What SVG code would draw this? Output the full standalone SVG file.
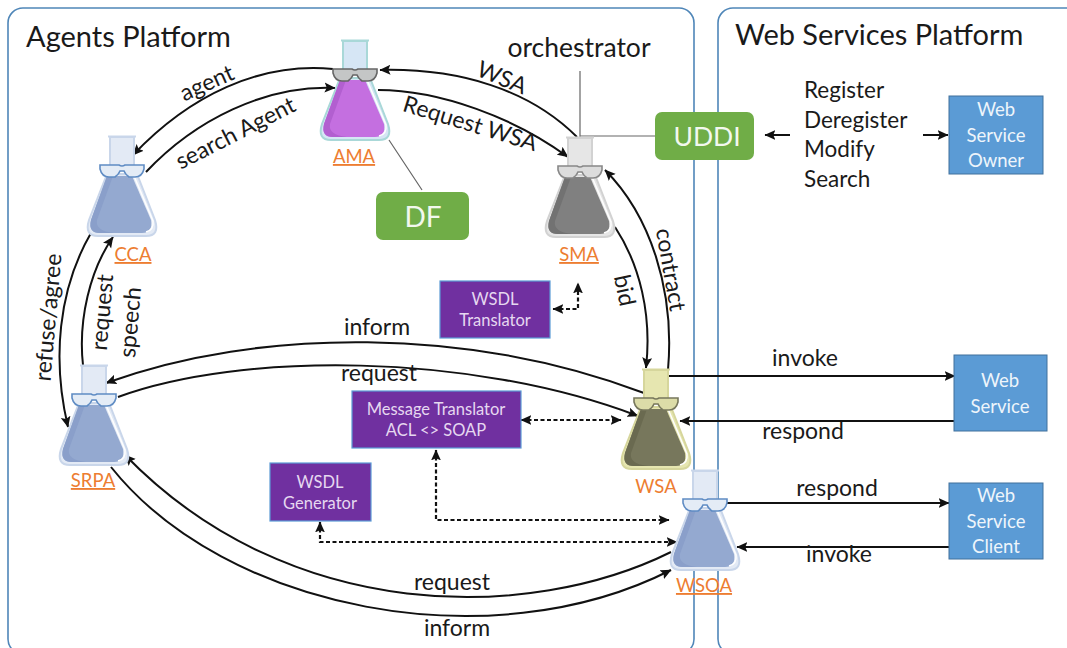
<svg xmlns="http://www.w3.org/2000/svg" width="1067" height="648" viewBox="0 0 1067 648">
<style>
text{font-family:Lato,"Open Sans","Liberation Sans",sans-serif;fill:#1a1a1a}
.panel{fill:#fff;stroke:#4f86b8;stroke-width:1.6}
.title{font-size:29px}
.t{font-size:23px;text-anchor:middle}
.side{font-size:22.5px}
.flabel{font-size:18.5px;fill:#ed7d31;text-anchor:middle;text-decoration:underline}
.green rect{fill:#70ad47}
.green text{fill:#f2f8ee;text-anchor:middle}
.purple rect{fill:#7030a0;stroke:#5b9bd5;stroke-width:1.2}
.purple text{fill:#e6d8f0;font-size:16.5px;text-anchor:middle}
.blue rect{fill:#5b9bd5;stroke:#41719c;stroke-width:1}
.blue text{fill:#eef5fb;font-size:18.5px;text-anchor:middle}
.c{fill:none;stroke:#111;stroke-width:2;marker-end:url(#a)}
.d{fill:none;stroke:#111;stroke-width:2.2;stroke-dasharray:4 2.5;marker-end:url(#a);marker-start:url(#a)}
.g{fill:none;stroke:#666;stroke-width:1.2}
</style>
<defs>
<marker id="a" viewBox="0 0 10 10" refX="9.5" refY="5" markerWidth="11" markerHeight="11" markerUnits="userSpaceOnUse" orient="auto-start-reverse"><path d="M0 0.5L10 5L0 9.5L2 5Z" fill="#111"/></marker>
<g id="flask">
<path d="M-12 1H12V32H-12Z" fill="var(--glass)" stroke="var(--edge)" stroke-width="2"/>
<path d="M-14 0.5H14" stroke="var(--edge)" stroke-width="2"/>
<path d="M-15 38L-33 84Q-38 100 -24 100H24Q38 100 33 84L15 38Z" fill="var(--glass)" stroke="var(--edge)" stroke-width="2"/>
<path d="M-15 40L-31 84Q-34 97 -22 97H20Q31 97 29 84L10 40Z" fill="var(--liquid)"/>
<path d="M-15 40L-31 84Q-34 97 -22 97H-8Q-27 95 -25 84L-9 40Z" fill="var(--dark)"/>
<path d="M12 40L31 85Q32 94 24 96" stroke="#fff" stroke-width="1.5" fill="none"/>
<path d="M-22 29H-3Q0 31 3 29H22V33Q20 41 13 41H7Q3 38 2 35H-2Q-3 38 -7 41H-13Q-20 41 -22 33Z" fill="var(--lens)" stroke="var(--rim)" stroke-width="1.6"/>
</g>
</defs>
<rect width="1067" height="648" fill="#fff"/>
<g id="panels">
<rect class="panel" x="8" y="8" width="686" height="646" rx="15"/>
<rect class="panel" x="718" y="8" width="366" height="646" rx="15"/>
<text class="title" x="26" y="47">Agents Platform</text>
<text class="title" x="735" y="45">Web Services Platform</text>
</g>
<g id="connectors">
<path class="c" d="M333 69C260 62 190 95 133 155"/>
<path class="c" d="M146 172C195 120 265 85 335 88"/>
<path class="c" d="M577 137C530 90 460 68 380 70"/>
<path class="c" d="M378 90C440 90 515 118 568 157"/>
<path class="c" d="M668 370C675 290 650 215 605 170"/>
<path class="c" d="M615 227C640 265 652 315 646 368"/>
<path class="c" d="M83 365C78 320 90 270 113 237"/>
<path class="c" d="M91 233C58 290 52 360 68 427"/>
<path class="c" d="M644 393C470 327 260 327 106 383"/>
<path class="c" d="M118 397C240 352 470 352 638 416"/>
<path class="c" d="M671 552C530 622 290 625 125 455"/>
<path class="c" d="M111 467C225 610 490 662 671 570"/>
<path class="c" d="M668 376H955"/>
<path class="c" d="M955 421H680"/>
<path class="c" d="M727 503H949"/>
<path class="c" d="M949 547H737"/>
<path class="c" d="M790 135H765"/>
<path class="c" d="M923 135H948"/>
<path class="g" d="M580 71V137M580 136H655M389 140L422 190"/>
<path class="d" d="M553 309H578V283"/>
<path class="d" d="M521 420H621"/>
<path class="d" d="M436 450V520H669"/>
<path class="d" d="M320 522V542H677"/>
</g>
<g id="labels">
<text class="t" transform="translate(210 90) rotate(-24)">agent</text>
<text class="t" transform="translate(239 140) rotate(-27)">search Agent</text>
<text class="t" transform="translate(499 85) rotate(22)">WSA</text>
<text class="t" transform="translate(468 131) rotate(17)">Request WSA</text>
<text class="t" transform="translate(663 271) rotate(80)">contract</text>
<text class="t" transform="translate(617 292) rotate(78)">bid</text>
<text class="t" transform="translate(56 318) rotate(-85)">refuse/agree</text>
<text class="t" transform="translate(110 313) rotate(-85)">request</text>
<text class="t" transform="translate(138 323) rotate(-85)">speech</text>
<text class="t" x="377" y="335">inform</text>
<text class="t" x="379" y="381">request</text>
<text class="t" x="452" y="590">request</text>
<text class="t" x="457" y="636">inform</text>
<text class="t" x="805" y="366">invoke</text>
<text class="t" x="803" y="439">respond</text>
<text class="t" x="837" y="496">respond</text>
<text class="t" x="839" y="562">invoke</text>
<text class="t" x="579" y="57" style="font-size:26.5px">orchestrator</text>
<text class="side" x="804" y="98">Register</text>
<text class="side" x="804" y="128">Deregister</text>
<text class="side" x="804" y="157">Modify</text>
<text class="side" x="804" y="187">Search</text>
</g>
<g id="AMA" style="--glass:#d6e6f5;--edge:#a9d8d8;--liquid:#c46fe0;--dark:#b25fd0;--rim:#666;--lens:#c4c6c6"><use href="#flask" x="355" y="40"/><text class="flabel" x="354" y="163">AMA</text></g>
<g id="CCA" style="--glass:#e3eaf5;--edge:#c9d6ea;--liquid:#94a9d0;--dark:#8a9fca;--rim:#5f8cc4;--lens:#e4ecf6"><use href="#flask" x="122" y="136"/><text class="flabel" x="133" y="261">CCA</text></g>
<g id="SRPA" style="--glass:#e3eaf5;--edge:#c9d6ea;--liquid:#94a9d0;--dark:#8a9fca;--rim:#5f8cc4;--lens:#e4ecf6"><use href="#flask" x="94" y="365"/><text class="flabel" x="93" y="487">SRPA</text></g>
<g id="SMA" style="--glass:#e6e6e6;--edge:#d2d2d2;--liquid:#808080;--dark:#727272;--rim:#888;--lens:#dcdcdc"><use href="#flask" x="580" y="137"/><text class="flabel" x="579" y="261">SMA</text></g>
<g id="WSA" style="--glass:#e6e6b0;--edge:#d6d69c;--liquid:#77775c;--dark:#6a6a50;--rim:#77775c;--lens:#dcdca8"><use href="#flask" x="656" y="369"/><text class="flabel" x="656" y="493" style="text-decoration:none">WSA</text></g>
<g id="WSOA" style="--glass:#e3eaf5;--edge:#c9d6ea;--liquid:#94a9d0;--dark:#8a9fca;--rim:#5f8cc4;--lens:#e4ecf6"><use href="#flask" x="705" y="470"/><text class="flabel" x="704" y="592">WSOA</text></g>
<g id="DF" class="green"><rect x="376" y="192" width="93" height="48" rx="7"/><text x="423" y="227" font-size="28">DF</text></g>
<g id="UDDI" class="green"><rect x="655" y="112" width="99" height="48" rx="7"/><text x="707" y="146" font-size="26.5">UDDI</text></g>
<g id="WSDLTranslator" class="purple"><rect x="440" y="281" width="110" height="57"/><text x="495" y="305">WSDL</text><text x="495" y="326">Translator</text></g>
<g id="MessageTranslator" class="purple"><rect x="352" y="391" width="169" height="57"/><text x="436" y="415">Message Translator</text><text x="436" y="436">ACL &lt;&gt; SOAP</text></g>
<g id="WSDLGenerator" class="purple"><rect x="270" y="463" width="101" height="58"/><text x="320" y="488">WSDL</text><text x="320" y="509">Generator</text></g>
<g id="WebServiceOwner" class="blue"><rect x="949" y="96" width="94" height="78"/><text x="996" y="116">Web</text><text x="996" y="142">Service</text><text x="996" y="167">Owner</text></g>
<g id="WebService" class="blue"><rect x="954" y="355" width="93" height="76"/><text x="1000" y="387">Web</text><text x="1000" y="413">Service</text></g>
<g id="WebServiceClient" class="blue"><rect x="949" y="483" width="94" height="76"/><text x="996" y="502">Web</text><text x="996" y="528">Service</text><text x="996" y="553">Client</text></g>
</svg>
